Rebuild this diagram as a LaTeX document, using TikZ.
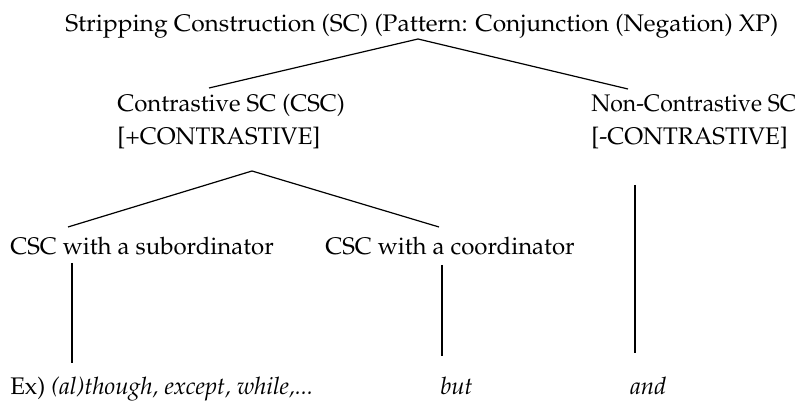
\documentclass[tikz,border=0pt]{standalone}
\usepackage[T1]{fontenc}
\usepackage{mathpazo}

\tikzset{
  lbl/.style={anchor=base west, inner sep=0pt, font=\fontsize{18}{22}\selectfont},
  branch/.style={line width=0.9pt}
}
% set a text to a given width (in px of the picture), height kept
\newcommand{\fitw}[2]{\resizebox{#1\dimexpr0.75pt\relax}{\height}{#2}}

\begin{document}
\begin{tikzpicture}[x=0.75pt,y=-0.75pt]
            \useasboundingbox (0,0) rectangle (797,402);

            \node[lbl] (sc) at (65,32) {\fitw{713}{Stripping Construction (SC) (Pattern: Conjunction (Negation) XP)}};

            \node[lbl] (csc) at (117,112) {Contrastive SC (CSC)};
            \node[lbl] (cscfeat) at (117,145) {[+CONTRASTIVE]};
            \node[lbl] (ncsc) at (591,112) {\fitw{205}{Non-Contrastive SC}};
            \node[lbl] (ncscfeat) at (591,145) {[-CONTRASTIVE]};

            \node[lbl] (sub) at (10,255) {CSC with a subordinator};
            \node[lbl] (coord) at (325,255) {CSC with a coordinator};

            \node[lbl] (exsub) at (10,395) {Ex) \textit{(al)though, except, while,...}};
            \node[lbl] (exbut) at (440,395) {\textit{but}};
            \node[lbl] (exand) at (630,395) {\textit{and}};

            % branch points
            \coordinate (sctop) at (418,39);
            \coordinate (cscleft) at (209,88);
            \coordinate (ncscleft) at (628,89);
            \coordinate (csctop) at (252,171);
            \coordinate (subtop) at (68,227);
            \coordinate (coordtop) at (439,227);

            \draw[branch] (cscleft) -- (sctop) -- (ncscleft);
            \draw[branch] (subtop) -- (csctop) -- (coordtop);

            \draw[branch] (72,263) -- (72,363);
            \draw[branch] (442,265) -- (442,356);
            \draw[branch] (635,185) -- (635,353);
        \end{tikzpicture}
\end{document}
